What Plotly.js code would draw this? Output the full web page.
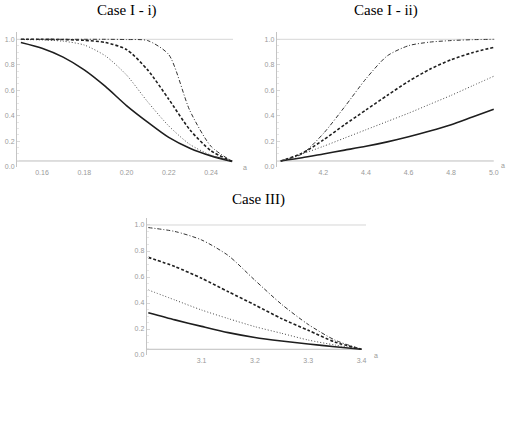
<!DOCTYPE html>
<html>
<head>
<meta charset="utf-8">
<script src="https://cdn.plot.ly/plotly-3.0.1.min.js"></script>
<style>
  html, body { margin: 0; padding: 0; background: #fff; }
  #chart { width: 507px; height: 448px; }
</style>
</head>
<body>
<div id="chart"></div>
<script>
// Case I - i): a from 0.15 to 0.25
const aCase1i = [0.15, 0.16, 0.17, 0.18, 0.19, 0.20, 0.21, 0.22, 0.23, 0.24, 0.25];
const solid1i   = [0.975, 0.93, 0.86, 0.76, 0.63, 0.48, 0.35, 0.23, 0.145, 0.085, 0.042];
const dotted1i  = [0.998, 0.995, 0.985, 0.955, 0.87, 0.72, 0.51, 0.32, 0.175, 0.09, 0.042];
const dashed1i  = [1.0, 1.0, 0.998, 0.992, 0.975, 0.92, 0.76, 0.53, 0.29, 0.125, 0.042];
const dashdot1i = [1.0, 1.0, 1.0, 1.0, 1.0, 0.998, 0.99, 0.88, 0.44, 0.16, 0.042];

// Case I - ii): a from 4.0 to 5.0
const aCase1ii = [4.0, 4.1, 4.2, 4.3, 4.4, 4.5, 4.6, 4.7, 4.8, 4.9, 5.0];
const solid1ii   = [0.045, 0.07, 0.10, 0.13, 0.16, 0.195, 0.235, 0.28, 0.33, 0.39, 0.45];
const dotted1ii  = [0.045, 0.10, 0.16, 0.225, 0.29, 0.355, 0.42, 0.49, 0.56, 0.635, 0.71];
const dashed1ii  = [0.045, 0.105, 0.21, 0.33, 0.445, 0.56, 0.67, 0.765, 0.84, 0.895, 0.937];
const dashdot1ii = [0.045, 0.10, 0.26, 0.47, 0.69, 0.87, 0.95, 0.978, 0.99, 0.997, 1.0];

// Case III): a from 3.0 to 3.4
const aCase3 = [3.0, 3.05, 3.1, 3.15, 3.2, 3.25, 3.3, 3.35, 3.4];
const solid3   = [0.325, 0.27, 0.22, 0.172, 0.135, 0.108, 0.085, 0.064, 0.044];
const dotted3  = [0.50, 0.423, 0.346, 0.28, 0.218, 0.167, 0.115, 0.077, 0.044];
const dashed3  = [0.751, 0.68, 0.59, 0.487, 0.385, 0.28, 0.19, 0.10, 0.044];
const dashdot3 = [0.98, 0.95, 0.885, 0.765, 0.575, 0.39, 0.235, 0.115, 0.044];

const panelTitles = ['Case I - i)', 'Case I - ii)', 'Case III)'];
const axisLabel = 'a';
const yTicks = [0, 0.2, 0.4, 0.6, 0.8, 1.0];
const yTickText = ['0.0', '0.2', '0.4', '0.6', '0.8', '1.0'];
const xTicks1i = [0.16, 0.18, 0.20, 0.22, 0.24];
const xTickText1i = ['0.16', '0.18', '0.20', '0.22', '0.24'];
const xTicks1ii = [4.2, 4.4, 4.6, 4.8, 5.0];
const xTickText1ii = ['4.2', '4.4', '4.6', '4.8', '5.0'];
const xTicks3 = [3.1, 3.2, 3.3, 3.4];
const xTickText3 = ['3.1', '3.2', '3.3', '3.4'];

// line styles for the four curves
const styles = [
  { color: '#1e1e1e', width: 1.6, dash: 'solid' },
  { color: '#4a4a4a', width: 1.0, dash: '1px,2px' },
  { color: '#1e1e1e', width: 1.6, dash: '3px,2px' },
  { color: '#333333', width: 1.0, dash: '4px,2px,1px,2px' }
];

function curves(x, series, xa, ya) {
  return series.map((y, i) => ({
    x: x, y: y, xaxis: xa, yaxis: ya, type: 'scatter', mode: 'lines',
    line: { color: styles[i].color, width: styles[i].width, dash: styles[i].dash,
            shape: 'spline', smoothing: 0.7 },
    hoverinfo: 'skip', showlegend: false
  }));
}

const data = [
  ...curves(aCase1i, [solid1i, dotted1i, dashed1i, dashdot1i], 'x', 'y'),
  ...curves(aCase1ii, [solid1ii, dotted1ii, dashed1ii, dashdot1ii], 'x2', 'y2'),
  ...curves(aCase3, [solid3, dotted3, dashed3, dashdot3], 'x3', 'y3')
];

const tickFont = { family: 'Liberation Sans, Arial, sans-serif', size: 7, color: '#9a9a9a' };

function xAxis(domain, range, vals, text, anchor) {
  return {
    domain: domain, range: range, anchor: anchor,
    tickvals: vals, ticktext: text, tickfont: tickFont,
    showgrid: false, zeroline: false, showline: false,
    ticks: '', fixedrange: true
  };
}
function yAxis(domain, range, anchor) {
  return {
    domain: domain, range: range, anchor: anchor,
    tickvals: yTicks, ticktext: yTickText, tickfont: tickFont,
    showgrid: false, zeroline: false,
    showline: true, linecolor: '#c4c4c4', linewidth: 1,
    ticks: 'inside', ticklen: 3, tickcolor: '#d8d8d8', tickwidth: 1,
    minor: { ticks: 'inside', ticklen: 2, tickcolor: '#e6e6e6', dtick: 0.05 },
    fixedrange: true
  };
}

const r1 = [0.14817, 0.25042], r2 = [3.981, 5.0059], r3 = [2.997, 3.4084];
const yr1 = [0, 1.0573], yr3 = [0, 1.0538];
const baseline1 = 0.045, baseline3 = 0.044;

function hLine(xref, yref, x0, x1, y, color) {
  return { type: 'line', xref: xref, yref: yref, x0: x0, x1: x1, y0: y, y1: y,
           line: { color: color, width: 1 }, layer: 'below' };
}

const shapes = [
  hLine('x', 'y', r1[0], r1[1], 1.0, '#d6d6d6'),
  hLine('x', 'y', r1[0], 0.2505, baseline1, '#bdbdbd'),
  hLine('x2', 'y2', r2[0], r2[1], 1.0, '#d6d6d6'),
  hLine('x2', 'y2', r2[0], 5.0, baseline1, '#bdbdbd'),
  hLine('x3', 'y3', r3[0], r3[1], 1.0, '#d6d6d6'),
  hLine('x3', 'y3', r3[0], 3.4, baseline3, '#bdbdbd')
];

const titleFont = { family: 'Liberation Serif, Times New Roman, serif', size: 15, color: '#000' };
const labelFont = { family: 'Liberation Sans, Arial, sans-serif', size: 7, color: '#9a9a9a' };

const annotations = [
  { text: panelTitles[0], xref: 'paper', yref: 'paper', x: 126.7 / 507, y: 1 - 11 / 448,
    xanchor: 'center', yanchor: 'middle', showarrow: false, font: titleFont },
  { text: panelTitles[1], xref: 'paper', yref: 'paper', x: 386 / 507, y: 1 - 11 / 448,
    xanchor: 'center', yanchor: 'middle', showarrow: false, font: titleFont },
  { text: panelTitles[2], xref: 'paper', yref: 'paper', x: 258.3 / 507, y: 1 - 199 / 448,
    xanchor: 'center', yanchor: 'middle', showarrow: false, font: titleFont },
  { text: axisLabel, xref: 'paper', yref: 'paper', x: 245 / 507, y: 1 - 167 / 448,
    xanchor: 'center', yanchor: 'middle', showarrow: false, font: labelFont },
  { text: axisLabel, xref: 'paper', yref: 'paper', x: 503 / 507, y: 1 - 165.5 / 448,
    xanchor: 'center', yanchor: 'middle', showarrow: false, font: labelFont },
  { text: axisLabel, xref: 'paper', yref: 'paper', x: 376 / 507, y: 1 - 355 / 448,
    xanchor: 'center', yanchor: 'middle', showarrow: false, font: labelFont }
];

const layout = {
  width: 507, height: 448,
  margin: { l: 0, r: 0, t: 0, b: 0 },
  paper_bgcolor: '#ffffff', plot_bgcolor: 'rgba(0,0,0,0)',
  showlegend: false,
  xaxis: xAxis([17 / 507, 233 / 507], r1, xTicks1i, xTickText1i, 'y'),
  yaxis: yAxis([1 - 166.7 / 448, 1 - 32 / 448], yr1, 'x'),
  xaxis2: xAxis([276.7 / 507, 495 / 507], r2, xTicks1ii, xTickText1ii, 'y2'),
  yaxis2: yAxis([1 - 166.7 / 448, 1 - 32 / 448], yr1, 'x2'),
  xaxis3: xAxis([146.7 / 507, 366 / 507], r3, xTicks3, xTickText3, 'y3'),
  yaxis3: yAxis([1 - 355 / 448, 1 - 218 / 448], yr3, 'x3'),
  shapes: shapes,
  annotations: annotations
};

Plotly.newPlot('chart', data, layout, { staticPlot: true, displayModeBar: false });
</script>
</body>
</html>
